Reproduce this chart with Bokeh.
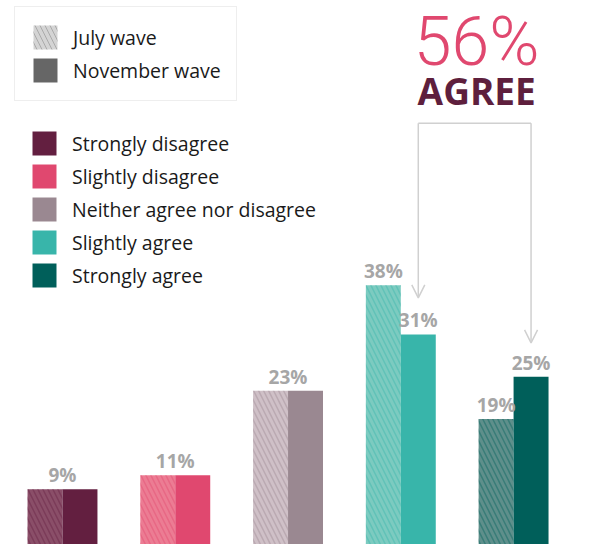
from bokeh.plotting import figure
from bokeh.models import ColumnDataSource, Range1d, Legend, LegendItem, Arrow, OpenHead
from bokeh.core.properties import value
from bokeh.embed import file_html
from bokeh.resources import INLINE

# ---- data ----
categories = ["Strongly disagree", "Slightly disagree", "Neither agree nor disagree",
              "Slightly agree", "Strongly agree"]
july = [9, 11, 23, 38, 19]
november = [9, 11, 23, 31, 25]
nov_colors = ["#631f40", "#e0486f", "#9a8891", "#38b5aa", "#005f5a"]
july_colors = ["#8a4e68", "#ec7c93", "#cfc0c7", "#7ccbc0", "#5e8f8b"]
waves = ["July wave", "November wave"]
wave_swatch = ["#d4d4d4", "#666666"]
agree_idx = [3, 4]
agree_total = sum(november[i] for i in agree_idx)

# ---- layout ----
BW = 0.31
xs = list(range(len(categories)))
x_july = [x - BW / 2 for x in xs]
x_nov = [x + BW / 2 for x in xs]

p = figure(width=591, height=544, output_backend="svg", toolbar_location=None,
           x_range=Range1d(-0.5498, 4.6910), y_range=Range1d(1.165, 78.45),
           x_axis_type=None, y_axis_type=None, min_border=0)
p.outline_line_color = None
p.grid.visible = False

src_j = ColumnDataSource(dict(x=x_july, top=july, fill=july_colors, hatch=nov_colors))
src_n = ColumnDataSource(dict(x=x_nov, top=november, fill=nov_colors))

r_j = p.vbar(x="x", top="top", bottom=0, width=BW, source=src_j, fill_color="fill",
             line_color=None, hatch_pattern="\\", hatch_color="hatch", hatch_alpha=0.4,
             hatch_scale=10, hatch_weight=1.5)
r_n = p.vbar(x="x", top="top", bottom=0, width=BW, source=src_n, fill_color="fill",
             line_color=None)

# value labels
lx, ly, lt = [], [], []
for i in xs:
    if july[i] == november[i]:
        lx.append(xs[i]); ly.append(july[i]); lt.append(f"{july[i]}%")
    else:
        lx += [x_july[i], x_nov[i]]; ly += [july[i], november[i]]
        lt += [f"{july[i]}%", f"{november[i]}%"]
p.text(x=lx, y=ly, text=lt, text_align="center", text_baseline="bottom", y_offset=-1,
       text_font=value("Open Sans"), text_font_style="bold", text_font_size="19px",
       text_color="#a6a6a6")

# bracket with arrows
xl, xr = x_nov[agree_idx[0]], x_nov[agree_idx[1]]
top_y = 61.0
tip_l = november[agree_idx[0]] + 5.2
tip_r = november[agree_idx[1]] + 4.8
p.line(x=[xl, xr], y=[top_y, top_y], line_color="#d0d0d0", line_width=1.5)
for xx, tip in [(xl, tip_l), (xr, tip_r)]:
    p.add_layout(Arrow(x_start=xx, y_start=top_y, x_end=xx, y_end=tip,
                       line_color="#d0d0d0", line_width=1.5,
                       end=OpenHead(size=13, line_color="#d0d0d0", line_width=1.5)))

xc = (xl + xr) / 2 + 0.018
p.text(x=[xc], y=[72.55], text=[f"{agree_total}%"], text_align="center",
       text_baseline="alphabetic", text_font=value("Roboto Light"),
       text_font_size="68px", text_color="#e0486f")
p.text(x=[xc], y=[65.6], text=["AGREE"], text_align="center",
       text_baseline="alphabetic", text_font=value("Open Sans"), text_font_style="bold",
       text_font_size="37px", text_color="#5e1f3d")

# legends
d_j = p.vbar(x=[-5], top=[1], width=BW, fill_color=wave_swatch[0], line_color=None,
             hatch_pattern="\\", hatch_color="#a0a0a0", hatch_alpha=0.8,
             hatch_scale=10, hatch_weight=1)
d_n = p.vbar(x=[-5], top=[1], width=BW, fill_color=wave_swatch[1], line_color=None)

common = dict(glyph_width=30, glyph_height=30, label_standoff=13,
              label_text_font="Open Sans", label_text_font_size="19.5px",
              label_text_color="#1a1a1a", spacing=3)
leg1 = Legend(items=[LegendItem(label=waves[0], renderers=[d_j]),
                     LegendItem(label=waves[1], renderers=[d_n])],
              location=(14, 443), margin=0, padding=15,
              border_line_color="#dddddd", border_line_width=1.5,
              background_fill_color="white", **common)
leg2 = Legend(items=[LegendItem(label=c, renderers=[r_n], index=i)
                     for i, c in enumerate(categories)],
              location=(29, 254), margin=0, padding=0,
              border_line_color=None, background_fill_alpha=0, **common)
p.add_layout(leg1)
p.add_layout(leg2)

open("out.html", "w").write(file_html(p, INLINE))
